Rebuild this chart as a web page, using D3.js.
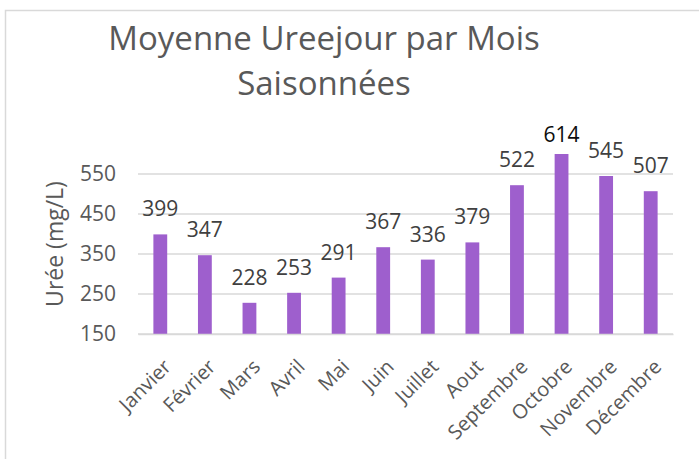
<!DOCTYPE html>
<html>
<head>
    <meta charset="utf-8">
    <script src="https://d3js.org/d3.v7.min.js"></script>
    <style>
        body { margin: 0; background: #fff; }
        text { font-family: "Open Sans", sans-serif; }
    </style>
</head>
<body>
    <div id="my_dataviz"></div>
    <script>
        // chart data
        var months = ["Janvier", "Février", "Mars", "Avril", "Mai", "Juin", "Juillet",
            "Aout", "Septembre", "Octobre", "Novembre", "Décembre"];
        var uree = [399, 347, 228, 253, 291, 367, 336, 379, 522, 614, 545, 507];
        var yTicks = [150, 250, 350, 450, 550];
        var yMin = 150, yMax = 600;
        var titleLines = ["Moyenne Ureejour par Mois", "Saisonnées"];
        var yLabel = "Urée (mg/L)";

        var W = 699, H = 459;
        var plot = { left: 138, right: 673, top: 154, bottom: 334 };

        var svg = d3.select("#my_dataviz")
            .append("svg")
            .attr("width", W)
            .attr("height", H);

        // chart frame (only top and left edges visible)
        svg.append("path")
            .attr("d", "M5.5," + H + "V10.5H" + W)
            .attr("fill", "none")
            .attr("stroke", "#d9d9d9")
            .attr("stroke-width", 1.5);

        // title
        svg.append("g").selectAll("text")
            .data(titleLines)
            .enter().append("text")
            .attr("x", 324)
            .attr("y", function (d, i) { return 50 + i * 45; })
            .attr("text-anchor", "middle")
            .attr("fill", "#595959")
            .style("font-size", "33px")
            .text(function (d) { return d; });

        var x = d3.scaleBand()
            .domain(months)
            .range([plot.left, plot.right])
            .paddingInner(0.69)
            .paddingOuter(0.345);

        // axis max is 600, taller bars get cut at the top of the plot
        var y = d3.scaleLinear()
            .domain([yMin, yMax])
            .range([plot.bottom, plot.top])
            .clamp(true);

        // gridlines
        svg.append("g").selectAll("line")
            .data(yTicks)
            .enter().append("line")
            .attr("x1", plot.left)
            .attr("x2", plot.right)
            .attr("y1", function (d) { return y(d); })
            .attr("y2", function (d) { return y(d); })
            .attr("stroke", "#d9d9d9")
            .attr("stroke-width", 1.5);

        // y axis
        var yAxis = svg.append("g")
            .attr("transform", "translate(" + (plot.left - 22) + ",0)")
            .call(d3.axisLeft(y).tickValues(yTicks).tickSize(0).tickPadding(0));
        yAxis.select(".domain").remove();
        yAxis.selectAll("text")
            .attr("fill", "#595959")
            .style("font-size", "21px");

        svg.append("text")
            .attr("transform", "translate(63,244) rotate(-90)")
            .attr("text-anchor", "middle")
            .attr("fill", "#595959")
            .style("font-size", "23px")
            .text(yLabel);

        // bars
        svg.append("g").selectAll("rect")
            .data(uree)
            .enter().append("rect")
            .attr("x", function (d, i) { return x(months[i]); })
            .attr("width", x.bandwidth())
            .attr("y", function (d) { return y(d); })
            .attr("height", function (d) { return y(yMin) - y(d); })
            .attr("fill", "#9e5fcd");

        // data labels
        svg.append("g").selectAll("text")
            .data(uree)
            .enter().append("text")
            .attr("x", function (d, i) { return x(months[i]) + x.bandwidth() / 2; })
            .attr("y", function (d) { return y(d) - (d > yMax ? 12 : 18); })
            .attr("text-anchor", "middle")
            .attr("fill", function (d) { return d > yMax ? "#0d0d0d" : "#404040"; })
            .style("font-size", "21px")
            .text(function (d) { return d; });

        // x axis
        var xAxis = svg.append("g")
            .attr("transform", "translate(0," + plot.bottom + ")")
            .call(d3.axisBottom(x).tickSize(0).tickPadding(0));
        xAxis.select(".domain")
            .attr("stroke", "#d9d9d9")
            .attr("stroke-width", 1.5);
        xAxis.selectAll("text")
            .attr("fill", "#595959")
            .style("font-size", "20px")
            .attr("text-anchor", "end")
            .attr("dy", "0")
            .attr("transform", "translate(12,34) rotate(-45)");
    </script>
</body>
</html>
